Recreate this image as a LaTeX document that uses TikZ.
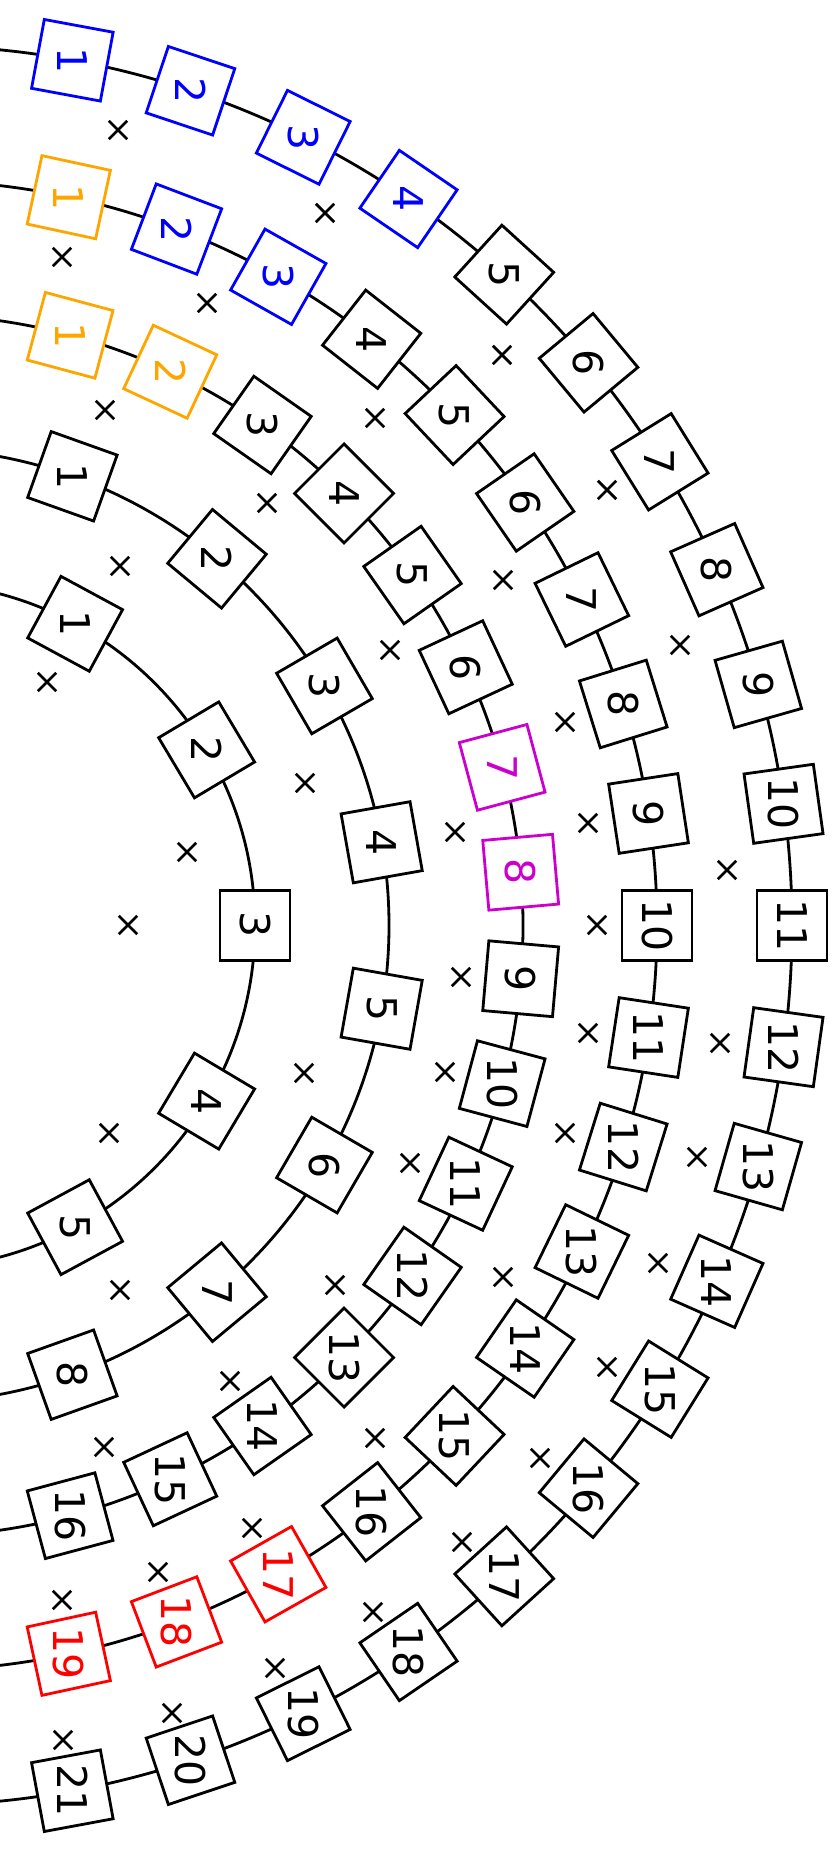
\documentclass[tikz,border=0pt]{standalone}
\usepackage{fontspec}
\setmainfont{DejaVu Sans}
\usepackage{graphicx}
\usepackage{xcolor}
\usetikzlibrary{shapes.misc}
\definecolor{tkblue}{HTML}{0000FF}
\definecolor{tkorange}{HTML}{FFA500}
\definecolor{tkmagenta}{HTML}{CC00CC}
\definecolor{tkred}{HTML}{FF0000}
\tikzset{
  trk/.style={line width=2.8pt, black},
  tok/.style={rectangle, draw=black, line width=2.8pt, fill=white,
    minimum size=70pt, inner sep=0pt, font=\fontsize{41}{41}\selectfont},
  empt/.style={cross out, draw=black, line width=2.8pt,
    minimum size=15.5pt, inner sep=0pt},
}

\begin{document}
\begin{tikzpicture}[x=1pt, y=1pt]
\useasboundingbox (88,-925.5) rectangle (924,925.5);
\clip (88,-925.5) rectangle (924,925.5);

% ---- Tracks ----
\foreach \r in {343,477,611,745,880}
  \draw[trk] (90:\r) arc[start angle=90, end angle=-90, radius=\r pt];

% ---- Track 1 (5) ----
\foreach \k in {1,...,5}{
  \pgfmathsetmacro\a{(3-\k)*30.8}
  \pgfmathsetmacro\b{-90-\a}
  \node[tok, rotate=\a] (ta\k) at (\a:343) {\rotatebox[origin=c]{\b}{\k}};
}

% ---- Track 2 (8) ----
\foreach \k in {1,...,8}{
  \pgfmathsetmacro\a{(4.5-\k)*20.1}
  \pgfmathsetmacro\b{-90-\a}
  \node[tok, rotate=\a] (tb\k) at (\a:477) {\rotatebox[origin=c]{\b}{\k}};
}

% ---- Track 3 (16) ----
\foreach \k in {1,...,16}{
  \pgfmathsetmacro\a{(8.5-\k)*10}
  \pgfmathsetmacro\b{-90-\a}
  \ifnum\k<3 \def\c{tkorange}\else
    \ifnum\k>6 \ifnum\k<9 \def\c{tkmagenta}\else\def\c{black}\fi
    \else\def\c{black}\fi\fi
  \node[tok, draw=\c, text=\c, rotate=\a] (tc\k) at (\a:611) {\rotatebox[origin=c]{\b}{\k}};
}

% ---- Track 4 (19) ----
\foreach \k in {1,...,19}{
  \pgfmathsetmacro\a{(10-\k)*8.65}
  \pgfmathsetmacro\b{-90-\a}
  \ifnum\k=1 \def\c{tkorange}\else
    \ifnum\k<4 \def\c{tkblue}\else
      \ifnum\k>16 \def\c{tkred}\else\def\c{black}\fi\fi\fi
  \node[tok, draw=\c, text=\c, rotate=\a] (td\k) at (\a:745) {\rotatebox[origin=c]{\b}{\k}};
}

% ---- Track 5 (21) ----
\foreach \k in {1,...,21}{
  \pgfmathsetmacro\a{(11-\k)*7.95}
  \pgfmathsetmacro\b{-90-\a}
  \ifnum\k<5 \def\c{tkblue}\else\def\c{black}\fi
  \node[tok, draw=\c, text=\c, rotate=\a] (te\k) at (\a:880) {\rotatebox[origin=c]{\b}{\k}};
}

% ---- Empty places ----
\foreach \p [count=\i] in {(206,795.5),(413,712.5),(150,668.5),(295,622.5),
    (193,515.5),(463,507.5),(590,570.5),(355,422.5),(208,359.5),(478,275.5),
    (135,243.5),(393,142.5),(275,73.5),(216,0.5),(695,435.5),(591,345.5),
    (768,280.5),(653,203.5),(543,93.5),(676,102.5),(815,55.5),(685,0.5),
    (392,-147.5),(197,-207.5),(498,-237.5),(208,-364.5),(423,-359.5),
    (318,-455.5),(549,-51.5),(676,-107.5),(808,-117.5),(533,-146.5),
    (653,-207.5),(785,-231.5),(591,-351.5),(746,-337.5),(695,-441.5),
    (192,-521.5),(463,-512.5),(340,-602.5),(246,-646.5),(150,-674.5),
    (461,-686.5),(363,-742.5),(260,-787.5),(151,-814.5),(628,-532.5),
    (550,-616.5)}
  \node[empt] (x\i) at \p {};

\end{tikzpicture}
\end{document}
